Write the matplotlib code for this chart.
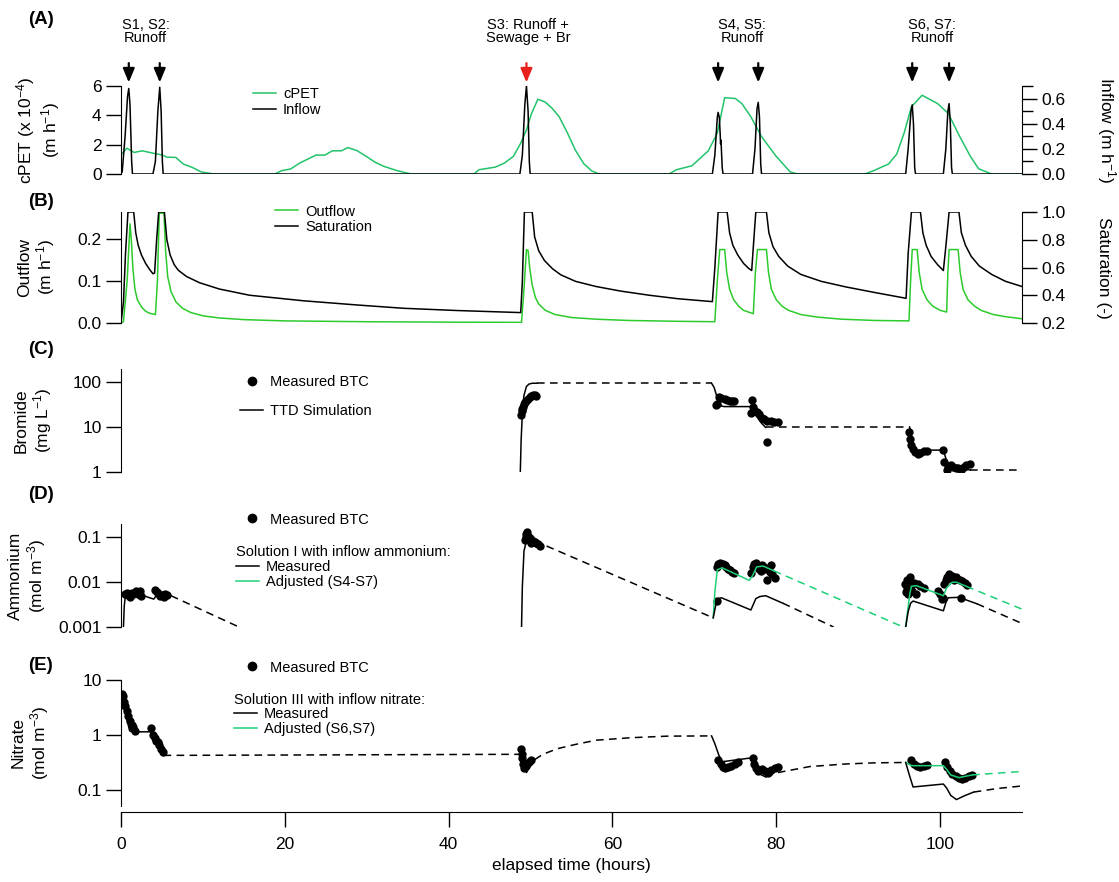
import matplotlib
matplotlib.use("Agg")
import matplotlib.pyplot as plt
from matplotlib.lines import Line2D
from matplotlib.ticker import NullLocator, MultipleLocator

plt.rcParams['font.family'] = ['Liberation Sans', 'DejaVu Sans']
plt.rcParams['mathtext.fontset'] = 'custom'
plt.rcParams['mathtext.rm'] = 'Liberation Sans'
plt.rcParams['mathtext.it'] = 'Liberation Sans:italic'
plt.rcParams['mathtext.bf'] = 'Liberation Sans:bold'

# ---------------- (A) cPET and inflow ----------------
cpet_t = [0, 0.7, 1.6, 2.6, 3.9, 5.0, 5.6, 6.7, 7.6, 8.7, 9.8, 11.3, 18.8, 19.6, 20.7, 21.8,
          23.8, 24.9, 25.8, 26.9, 27.7, 28.8, 29.7, 31.0, 32.1, 33.7, 35.4, 43.1, 43.7, 45.7,
          46.8, 47.9, 48.8, 49.5, 50.1, 50.9, 51.8, 52.6, 53.5, 54.5, 55.5, 56.5, 57.5, 58.4,
          66.9, 67.8, 69.7, 71.7, 72.8, 73.7, 75.0, 75.8, 76.9, 78.2, 80.0, 81.7, 82.6, 90.8,
          91.9, 93.7, 94.7, 95.6, 96.5, 97.8, 99.7, 101.0, 102.3, 103.7, 104.7, 106.3, 110]
cpet_v = [1.3, 1.76, 1.47, 1.58, 1.42, 1.3, 1.15, 1.13, 0.68, 0.45, 0.14, 0, 0, 0.23, 0.34, 0.74,
          1.29, 1.29, 1.58, 1.58, 1.8, 1.6, 1.29, 0.81, 0.52, 0.23, 0, 0, 0.29, 0.47,
          0.74, 1.2, 2.1, 3.0, 4.1, 5.1, 4.9, 4.5, 3.9, 2.8, 1.6, 0.7, 0.2, 0,
          0, 0.29, 0.56, 1.58, 2.78, 5.2, 5.15, 4.8, 3.9, 2.55, 1.2, 0.14, 0, 0,
          0.23, 0.68, 1.35, 2.78, 4.58, 5.37, 4.8, 4.13, 2.66, 1.2, 0.36, 0, 0]

inflow_t = [0, 0.15, 0.5, 0.8, 0.95, 1.1, 1.3, 1.4,
            3.9, 4.2, 4.5, 4.73, 4.9, 5.05, 5.15,
            48.7, 49.0, 49.3, 49.5, 49.7, 49.85, 49.95,
            72.2, 72.5, 72.8, 72.9, 73.05, 73.15, 73.2, 73.25, 73.4, 73.5,
            77.1, 77.4, 77.65, 77.8, 77.95, 78.1, 78.2,
            95.8, 96.1, 96.45, 96.6, 96.75, 96.9, 97.0,
            100.4, 100.7, 100.95, 101.1, 101.25, 101.4, 101.5, 110]
inflow_v = [0, 0.02, 0.3, 0.62, 0.68, 0.55, 0.1, 0,
            0, 0.1, 0.5, 0.69, 0.5, 0.1, 0,
            0, 0.15, 0.55, 0.70, 0.5, 0.1, 0,
            0, 0.15, 0.45, 0.49, 0.45, 0.32, 0.24, 0.27, 0.05, 0,
            0, 0.2, 0.52, 0.57, 0.45, 0.08, 0,
            0, 0.2, 0.5, 0.55, 0.4, 0.05, 0,
            0, 0.2, 0.5, 0.56, 0.4, 0.05, 0, 0]

event_t = [0.95, 4.73, 49.5, 72.9, 77.8, 96.6, 101.1]
event_colors = ['black', 'black', '#e8201c', 'black', 'black', 'black', 'black']
event_label_t = [3.0, 49.7, 75.8, 99.0]
event_labels = ['S1, S2:\nRunoff', 'S3: Runoff +\nSewage + Br', 'S4, S5:\nRunoff', 'S6, S7:\nRunoff']

# ---------------- (B) outflow and saturation ----------------
sat_t = [0, 0.3, 0.55, 0.85, 1.55, 1.8, 2.1, 2.5, 3.0, 3.5, 3.9, 4.1, 4.35, 4.6, 5.3, 5.6,
         6.0, 6.5, 7.0, 8.0, 9.6, 12.0, 15.7, 22.3, 28.8, 34.5, 41.0, 48.8, 49.0, 49.25,
         50.2, 50.5, 51.0, 51.7, 52.7, 53.7, 55.5, 58.0, 61.0, 64.5, 68.0, 72.2, 72.5, 72.9,
         74.0, 74.3, 74.7, 75.3, 76.0, 76.6, 77.0, 77.2, 77.5, 78.8, 79.1, 79.6, 80.3, 81.4,
         83.0, 85.5, 88.5, 92.0, 95.85, 96.1, 96.5, 97.6, 97.9, 98.3, 98.9, 99.7, 100.4,
         100.7, 101.1, 102.3, 102.6, 103.1, 103.8, 104.8, 106.3, 108.0, 110]
sat_v = [0.2, 0.35, 0.7, 1.0, 1.0, 0.85, 0.76, 0.69, 0.63, 0.585, 0.555, 0.56, 0.8, 1.0, 1.0, 0.8,
         0.69, 0.62, 0.58, 0.535, 0.49, 0.445, 0.40, 0.36, 0.33, 0.306, 0.29, 0.275, 0.5, 1.0,
         1.0, 0.82, 0.72, 0.65, 0.59, 0.547, 0.5, 0.463, 0.43, 0.40, 0.375, 0.354, 0.6, 1.0,
         1.0, 0.85, 0.76, 0.69, 0.63, 0.595, 0.578, 0.75, 1.0, 1.0, 0.85, 0.75, 0.68, 0.61,
         0.55, 0.5, 0.46, 0.42, 0.378, 0.7, 1.0, 1.0, 0.85, 0.76, 0.68, 0.62, 0.578,
         0.75, 1.0, 1.0, 0.85, 0.76, 0.68, 0.61, 0.55, 0.5, 0.463]

outflow_t = [0, 0.3, 0.75, 1.1, 1.25, 1.45, 1.7, 2.0, 2.5, 3.0, 3.5, 4.2, 4.45, 4.67, 5.24,
             5.45, 5.7, 6.1, 6.7, 7.5, 8.5, 10, 12, 15, 20, 30, 40, 48.9, 49.2, 49.5, 49.7,
             49.9, 50.2, 50.6, 51.0, 51.8, 53, 55, 58, 62, 68, 72.5, 72.8, 73.1, 73.7, 73.95,
             74.3, 74.8, 75.4, 76.0, 77.2, 77.45, 77.7, 78.8, 79.05, 79.4, 80.0, 80.7, 81.5,
             83, 85, 88, 92, 96.2, 96.4, 96.6, 97.2, 97.45, 97.8, 98.4, 99.1, 100.0, 100.8,
             100.95, 101.1, 102.2, 102.45, 102.8, 103.4, 104.2, 105, 106.5, 108, 110]
outflow_v = [0, 0.003, 0.1, 0.235, 0.2, 0.13, 0.08, 0.055, 0.038, 0.028, 0.023, 0.02, 0.1, 0.26, 0.26,
             0.17, 0.11, 0.075, 0.05, 0.035, 0.025, 0.017, 0.012, 0.008, 0.005, 0.003, 0.002, 0.0015, 0.08, 0.174, 0.172,
             0.13, 0.09, 0.06, 0.045, 0.03, 0.02, 0.013, 0.009, 0.006, 0.004, 0.003, 0.1, 0.174, 0.174, 0.12,
             0.08, 0.055, 0.04, 0.03, 0.022, 0.12, 0.174, 0.174, 0.12, 0.08, 0.055, 0.04, 0.03,
             0.02, 0.014, 0.009, 0.006, 0.005, 0.1, 0.174, 0.174, 0.12, 0.08, 0.055, 0.04, 0.03, 0.026,
             0.12, 0.174, 0.174, 0.12, 0.08, 0.055, 0.04, 0.03, 0.02, 0.015, 0.01]

# ---------------- (C) bromide ----------------
br_meas_t = [48.85, 48.9, 49.0, 49.1, 49.2, 49.35, 49.5, 49.7, 49.9, 50.1, 50.3, 50.5, 50.7,
             72.6, 72.8, 73.0, 73.3, 73.7, 74.0, 74.3, 74.6, 74.9,
             76.9, 77.0, 77.1, 77.3, 77.6, 77.9, 78.2, 78.5, 78.9, 79.3, 79.7, 80.2, 78.9,
             96.2, 96.3, 96.5, 96.7, 96.9, 97.3, 97.6, 98.0, 98.4, 100.3, 100.5, 100.8, 101.0,
             101.3, 101.6, 101.9, 102.2, 102.6, 102.9, 103.2, 103.7]
br_meas_v = [18, 22, 25, 28, 32, 35, 38, 42, 45, 48, 50, 51, 49,
             30, 32, 46, 43, 41, 39, 38, 37, 37,
             20, 39, 28, 24, 21.6, 19, 16, 15, 13.6, 13.2, 12.9, 12.9, 4.6,
             7.7, 5.5, 3.9, 3.2, 2.8, 2.5, 2.6, 2.9, 2.9, 3.0, 1.66, 1.1, 1.3,
             1.4, 1.3, 1.25, 1.2, 1.13, 1.3, 1.4, 1.47]
br_sim1_t = [48.75, 48.85, 49.0, 49.2, 49.5, 49.8, 50.2, 50.8]
br_sim1_v = [1, 5, 20, 50, 78, 88, 92, 92]
br_sim2_t = [72.1, 72.4, 72.7, 73.0, 73.3, 73.6, 76.8, 77.2, 77.6, 78.2, 78.7]
br_sim2_v = [92, 75, 50, 35, 29, 28, 28, 22, 17, 12, 9.7]
br_sim3_t = [96.3, 96.5, 96.8, 97.1, 100.4, 100.7, 101.0, 102.0, 103.7]
br_sim3_v = [9.7, 6, 3.8, 3.05, 3.05, 2.0, 1.5, 1.3, 1.1]
br_gap1_t = [50.8, 72.1]
br_gap1_v = [92, 92]
br_gap2_t = [78.7, 96.3]
br_gap2_v = [9.7, 9.7]
br_gap3_t = [103.7, 110]
br_gap3_v = [1.1, 1.1]

# ---------------- (D) ammonium ----------------
nh4_meas_t = [0.5, 0.7, 0.9, 1.1, 1.3, 1.5, 1.8, 2.1, 2.3, 2.4,
              4.2, 4.4, 4.6, 4.8, 5.0, 5.2, 5.4, 5.6,
              49.3, 49.45, 49.5, 49.6, 49.75, 49.9, 50.0, 50.1, 50.3, 50.5, 50.7, 50.9, 51.1,
              72.8, 72.9, 73.1, 73.3, 73.5, 73.7, 73.9, 74.1, 74.3, 74.6, 74.9, 72.8,
              76.9, 77.1, 77.3, 77.5, 77.7, 77.9, 78.1, 78.3, 78.5, 78.7, 78.9, 79.2, 79.3, 79.5, 79.9,
              95.7, 95.8, 95.9, 96.0, 96.1, 96.3, 96.4, 96.6, 96.8, 97.0, 97.3, 97.6, 98.0,
              99.8, 100.0, 100.2, 100.4, 100.5, 100.7, 100.9, 101.1, 101.3, 101.5, 101.7, 101.9,
              102.1, 102.4, 102.7, 103.0, 103.3, 102.5]
nh4_meas_v = [0.0055, 0.0058, 0.0052, 0.0048, 0.0057, 0.0054, 0.0065, 0.0055, 0.0063, 0.0049,
              0.0068, 0.006, 0.0055, 0.005, 0.0052, 0.0048, 0.0056, 0.0052,
              0.09, 0.12, 0.1, 0.135, 0.11, 0.095, 0.075, 0.09, 0.085, 0.08, 0.075, 0.07, 0.065,
              0.022, 0.026, 0.027, 0.025, 0.026, 0.024, 0.022, 0.02, 0.019, 0.017, 0.016, 0.0038,
              0.016, 0.022, 0.026, 0.027, 0.024, 0.02, 0.018, 0.024, 0.022, 0.02, 0.011, 0.017, 0.024, 0.015, 0.0125,
              0.009, 0.006, 0.011, 0.0075, 0.0055, 0.013, 0.0085, 0.0065, 0.0095, 0.0055, 0.009, 0.0082, 0.0075,
              0.0065, 0.0055, 0.0042, 0.0045, 0.009, 0.0115, 0.013, 0.0155, 0.0125, 0.014, 0.011, 0.013,
              0.012, 0.0115, 0.0105, 0.0095, 0.0085, 0.0045]
nh4_sim1_t = [0.3, 0.4, 0.55, 0.8, 1.1, 1.4, 1.7, 2.5, 3.5, 4.0, 4.3, 4.6, 5.0, 5.5, 6.1]
nh4_sim1_v = [0.001, 0.003, 0.0052, 0.0056, 0.0055, 0.0054, 0.006, 0.0052, 0.0045, 0.0042, 0.005,
              0.0058, 0.0057, 0.0054, 0.005]
nh4_gap1_t = [6.1, 14.4]
nh4_gap1_v = [0.005, 0.001]
nh4_sim2_t = [48.9, 49.0, 49.2, 49.5, 49.8, 50.5]
nh4_sim2_v = [0.001, 0.008, 0.05, 0.085, 0.095, 0.084]
nh4_gap2_t = [50.5, 72.3]
nh4_gap2_v = [0.084, 0.0016]
nh4_meas3_t = [72.3, 72.6, 72.9, 73.3, 76.9, 77.2, 77.5, 78.0, 78.7, 80.8]
nh4_meas3_v = [0.0016, 0.003, 0.0043, 0.0045, 0.0024, 0.0032, 0.0043, 0.0048, 0.005, 0.0034]
nh4_meas3_gap_t = [80.8, 87.0]
nh4_meas3_gap_v = [0.0034, 0.001]
nh4_meas4_t = [95.8, 96.1, 96.4, 96.7, 100.4, 100.7, 101.0, 102.3, 104.5]
nh4_meas4_v = [0.001, 0.0022, 0.0034, 0.0038, 0.0023, 0.0035, 0.0045, 0.0046, 0.0033]
nh4_meas4_gap_t = [104.5, 110]
nh4_meas4_gap_v = [0.0033, 0.0012]
nh4_adj3_t = [72.3, 72.5, 72.8, 73.4, 76.7, 77.1, 77.6, 78.4, 79.7]
nh4_adj3_v = [0.0016, 0.006, 0.019, 0.021, 0.011, 0.014, 0.022, 0.023, 0.018]
nh4_adj3_gap_t = [79.7, 95.5]
nh4_adj3_gap_v = [0.018, 0.001]
nh4_adj4_t = [95.8, 96.0, 96.3, 96.5, 97.1, 100.4, 100.8, 101.5, 102.0, 103.2]
nh4_adj4_v = [0.001, 0.002, 0.0055, 0.0081, 0.0084, 0.005, 0.0075, 0.01, 0.01, 0.0081]
nh4_adj4_gap_t = [103.2, 110]
nh4_adj4_gap_v = [0.0081, 0.0025]

# ---------------- (E) nitrate ----------------
no3_meas_t = [0.1, 0.2, 0.35, 0.5, 0.7, 0.9, 1.1, 1.3, 1.5, 1.7,
              3.7, 3.9, 4.1, 4.3, 4.5, 4.7, 4.9, 5.1,
              48.8, 48.9, 49.0, 49.1, 49.2, 49.4, 49.6, 49.8, 50.0,
              72.9, 73.2, 73.5, 73.8, 74.1, 74.5, 75.0, 75.3,
              77.1, 77.3, 77.5, 77.8, 78.2, 78.6, 79.0, 79.4, 79.8, 80.2,
              96.5, 96.8, 97.2, 97.6, 98.0, 98.4,
              100.6, 100.9, 101.2, 101.5, 101.9, 102.3, 102.7, 103.1, 103.5, 103.9]
no3_meas_v = [5.5, 5.2, 4.0, 3.4, 2.7, 2.2, 1.8, 1.5, 1.4, 1.2,
              1.35, 1.0, 0.9, 0.8, 0.75, 0.65, 0.55, 0.5,
              0.55, 0.45, 0.38, 0.3, 0.25, 0.28, 0.3, 0.32, 0.35,
              0.35, 0.3, 0.27, 0.25, 0.26, 0.28, 0.3, 0.32,
              0.38, 0.3, 0.25, 0.22, 0.24, 0.22, 0.21, 0.23, 0.25, 0.27,
              0.35, 0.3, 0.28, 0.27, 0.28, 0.29,
              0.32, 0.26, 0.22, 0.2, 0.18, 0.17, 0.16, 0.17, 0.18, 0.19]
no3_sim1_t = [0.1, 0.4, 0.7, 1.05, 1.3, 3.9, 4.3, 4.8, 5.2]
no3_sim1_v = [5.4, 3.4, 2.0, 1.2, 1.15, 1.15, 0.8, 0.55, 0.43]
no3_gap1_t = [5.2, 48.8]
no3_gap1_v = [0.43, 0.45]
no3_sim2_t = [48.8, 49.1, 49.5, 49.9, 50.5]
no3_sim2_v = [0.45, 0.3, 0.21, 0.27, 0.36]
no3_gap2_t = [50.5, 51.5, 53.3, 55.5, 58.0, 62.3, 66.7, 72.1]
no3_gap2_v = [0.36, 0.45, 0.57, 0.68, 0.81, 0.9, 0.96, 0.97]
no3_sim3_t = [72.1, 72.5, 73.0, 73.4, 77.1, 77.3, 77.6, 78.7]
no3_sim3_v = [0.97, 0.7, 0.43, 0.33, 0.39, 0.28, 0.21, 0.175]
no3_gap3_t = [78.7, 80.2, 84.1, 88.4, 92.0, 95.8]
no3_gap3_v = [0.175, 0.21, 0.27, 0.3, 0.315, 0.32]
no3_meas4_t = [95.8, 96.2, 96.7, 100.4, 100.8, 101.3, 102.0, 103.0, 104.1]
no3_meas4_v = [0.32, 0.2, 0.115, 0.13, 0.11, 0.081, 0.068, 0.08, 0.093]
no3_meas4_gap_t = [104.1, 107, 110]
no3_meas4_gap_v = [0.093, 0.108, 0.12]
no3_adj4_t = [95.8, 96.5, 100.4, 100.8, 101.3, 102.3, 103.9]
no3_adj4_v = [0.32, 0.28, 0.28, 0.24, 0.19, 0.17, 0.19]
no3_adj4_gap_t = [103.9, 107, 110]
no3_adj4_gap_v = [0.19, 0.205, 0.22]

# ---------------- styling ----------------
C_CPET = '#22c36a'
C_OUT = '#2ccb2c'
C_ADJ = '#1fcf78'
DASH = (0, (5, 3.5))
LW = 1.1
W, H = 1119, 882
XL, XR = 121, 1022


def rect(top, bottom):
    return [XL / W, 1 - bottom / H, (XR - XL) / W, (bottom - top) / H]


def style_left(ax, label, label_x):
    for s in ['top', 'right', 'bottom']:
        ax.spines[s].set_visible(False)
    ax.tick_params(axis='x', bottom=False, labelbottom=False)
    ax.tick_params(axis='y', direction='out', length=11, width=1, labelsize=12.5, pad=3)
    ax.set_xlim(0, 110)
    ax.patch.set_alpha(0)
    ax.text((label_x - XL) / (XR - XL), 0.5, label, transform=ax.transAxes, rotation=90,
            ha='center', va='center', fontsize=12.5, linespacing=1.15)


def style_right(ax, label, label_x):
    for s in ['top', 'left', 'bottom']:
        ax.spines[s].set_visible(False)
    ax.tick_params(axis='y', which='both', direction='out', width=1, labelsize=12.5, pad=3)
    ax.tick_params(axis='y', which='major', length=11)
    ax.tick_params(axis='y', which='minor', length=8)
    ax.text((label_x - XL) / (XR - XL), 0.5, label, transform=ax.transAxes, rotation=270,
            ha='center', va='center', fontsize=12.5)


def log_ticks(ax, ticks, labels):
    ax.set_yscale('log')
    ax.set_yticks(ticks)
    ax.set_yticklabels(labels)
    ax.yaxis.set_minor_locator(NullLocator())


def leg_box(x, top):
    return dict(loc='upper left', bbox_to_anchor=(x / W, 1 - top / H), bbox_transform=fig.transFigure,
                frameon=False, fontsize=10.5, borderpad=0, borderaxespad=0, handlelength=1.6,
                handletextpad=0.45)


def draw(ax, segs, color, dashed=False, z=4):
    for t, v in segs:
        ax.plot(t, v, color=color, lw=LW, ls=DASH if dashed else '-', zorder=z)


def dots(ax, t, v):
    ax.plot(t, v, 'o', color='black', ms=5, ls='none', zorder=3)


fig = plt.figure(figsize=(W / 100, H / 100), dpi=100)

# ---- (A)
axA = fig.add_axes(rect(86, 174))
axA2 = axA.twinx()
axA.plot(cpet_t, cpet_v, color=C_CPET, lw=LW)
axA2.plot(inflow_t, inflow_v, color='black', lw=LW)
axA.set_ylim(0, 6)
axA.set_yticks([0, 2, 4, 6])
axA2.set_ylim(0, 0.7)
axA2.set_yticks([0.0, 0.2, 0.4, 0.6])
axA2.set_yticklabels(['0.0', '0.2', '0.4', '0.6'])
axA2.yaxis.set_minor_locator(MultipleLocator(0.1))
style_left(axA, 'cPET (x 10$^{-4}$)\n(m h$^{-1}$)', 38)
style_right(axA2, 'Inflow (m h$^{-1}$)', 1106)
axA2.set_xlim(0, 110)
for t, c in zip(event_t, event_colors):
    axA.annotate('', xy=(t, 1.04), xytext=(t, 1.26), xycoords=('data', 'axes fraction'),
                 textcoords=('data', 'axes fraction'),
                 arrowprops=dict(arrowstyle='-|>,head_length=0.6,head_width=0.25', color=c, lw=1.6,
                                 mutation_scale=14, shrinkA=0, shrinkB=0))
for t, s in zip(event_label_t, event_labels):
    axA.text(t, 1.62, s, transform=axA.get_xaxis_transform(), ha='center', va='center',
             fontsize=10.5, linespacing=0.95)
axA.legend([Line2D([], [], color=C_CPET, lw=LW), Line2D([], [], color='black', lw=LW)],
           ['cPET', 'Inflow'], labelspacing=0.1, **leg_box(253, 87.5))

# ---- (B)
axB = fig.add_axes(rect(212, 323))
axB2 = axB.twinx()
axB.plot(outflow_t, outflow_v, color=C_OUT, lw=LW)
axB2.plot(sat_t, sat_v, color='black', lw=LW)
axB.set_ylim(0, 0.263)
axB.set_yticks([0.0, 0.1, 0.2])
axB.set_yticklabels(['0.0', '0.1', '0.2'])
axB2.set_ylim(0.2, 1.0)
axB2.set_yticks([0.2, 0.4, 0.6, 0.8, 1.0])
axB2.set_yticklabels(['0.2', '0.4', '0.6', '0.8', '1.0'])
style_left(axB, 'Outflow\n(m h$^{-1}$)', 37)
style_right(axB2, 'Saturation (-)', 1103)
axB2.set_xlim(0, 110)
axB.legend([Line2D([], [], color=C_OUT, lw=LW), Line2D([], [], color='black', lw=LW)],
           ['Outflow', 'Saturation'], labelspacing=0.1, **leg_box(275, 204.5))

# ---- (C)
axC = fig.add_axes(rect(369, 472))
dots(axC, br_meas_t, br_meas_v)
draw(axC, [(br_sim1_t, br_sim1_v), (br_sim2_t, br_sim2_v), (br_sim3_t, br_sim3_v)], 'black')
draw(axC, [(br_gap1_t, br_gap1_v), (br_gap2_t, br_gap2_v), (br_gap3_t, br_gap3_v)], 'black', True)
log_ticks(axC, [1, 10, 100], ['1', '10', '100'])
axC.set_ylim(1, 190)
style_left(axC, 'Bromide\n(mg L$^{-1}$)', 34)
axC.legend([Line2D([], [], marker='o', ms=6, color='black', ls='none'),
            Line2D([], [], color='black', lw=LW)],
           ['Measured BTC', 'TTD Simulation'], labelspacing=1.0, **leg_box(240, 375.5))

# ---- (D)
axD = fig.add_axes(rect(524, 627))
dots(axD, nh4_meas_t, nh4_meas_v)
draw(axD, [(nh4_adj3_t, nh4_adj3_v), (nh4_adj4_t, nh4_adj4_v)], C_ADJ)
draw(axD, [(nh4_adj3_gap_t, nh4_adj3_gap_v), (nh4_adj4_gap_t, nh4_adj4_gap_v)], C_ADJ, True)
draw(axD, [(nh4_sim1_t, nh4_sim1_v), (nh4_sim2_t, nh4_sim2_v), (nh4_meas3_t, nh4_meas3_v),
           (nh4_meas4_t, nh4_meas4_v)], 'black')
draw(axD, [(nh4_gap1_t, nh4_gap1_v), (nh4_gap2_t, nh4_gap2_v), (nh4_meas3_gap_t, nh4_meas3_gap_v),
           (nh4_meas4_gap_t, nh4_meas4_gap_v)], 'black', True)
log_ticks(axD, [0.001, 0.01, 0.1], ['0.001', '0.01', '0.1'])
axD.set_ylim(0.001, 0.2)
style_left(axD, 'Ammonium\n(mol m$^{-3}$)', 28)
legD = axD.legend([Line2D([], [], marker='o', ms=6, color='black', ls='none')], ['Measured BTC'],
                  **leg_box(240, 512.5))
axD.add_artist(legD)
axD.legend([Line2D([], [], color='black', lw=LW), Line2D([], [], color=C_ADJ, lw=LW)],
           ['Measured', 'Adjusted (S4-S7)'], title='Solution I with inflow ammonium:',
           title_fontsize=10.5, alignment='left', labelspacing=0.05, **leg_box(236, 545.5))

# ---- (E)
axE = fig.add_axes(rect(680, 806))
dots(axE, no3_meas_t, no3_meas_v)
draw(axE, [(no3_adj4_t, no3_adj4_v)], C_ADJ)
draw(axE, [(no3_adj4_gap_t, no3_adj4_gap_v)], C_ADJ, True)
draw(axE, [(no3_sim1_t, no3_sim1_v), (no3_sim2_t, no3_sim2_v), (no3_sim3_t, no3_sim3_v),
           (no3_meas4_t, no3_meas4_v)], 'black')
draw(axE, [(no3_gap1_t, no3_gap1_v), (no3_gap2_t, no3_gap2_v), (no3_gap3_t, no3_gap3_v),
           (no3_meas4_gap_t, no3_meas4_gap_v)], 'black', True)
log_ticks(axE, [0.1, 1, 10], ['0.1', '1', '10'])
axE.set_ylim(0.052, 10)
style_left(axE, 'Nitrate\n(mol m$^{-3}$)', 31)
axE.spines['bottom'].set_visible(True)
axE.spines['bottom'].set_position(('outward', 4.5))
axE.tick_params(axis='x', bottom=True, labelbottom=True, direction='out', length=11, width=1,
                labelsize=12.5, pad=7)
axE.set_xticks([0, 20, 40, 60, 80, 100])
axE.set_xlabel('elapsed time (hours)', fontsize=12.5, labelpad=4)
legE = axE.legend([Line2D([], [], marker='o', ms=6, color='black', ls='none')], ['Measured BTC'],
                  **leg_box(240, 660.5))
axE.add_artist(legE)
axE.legend([Line2D([], [], color='black', lw=LW), Line2D([], [], color=C_ADJ, lw=LW)],
           ['Measured', 'Adjusted (S6,S7)'], title='Solution III with inflow nitrate:',
           title_fontsize=10.5, alignment='left', labelspacing=0.05, **leg_box(234, 692.5))

# panel letters
for lab, y in zip(['(A)', '(B)', '(C)', '(D)', '(E)'], [20, 202, 350, 495, 665]):
    fig.text(28 / W, 1 - y / H, lab, fontsize=13.5, fontweight='bold', va='center', ha='left')

fig.savefig('out.png', dpi=100)
